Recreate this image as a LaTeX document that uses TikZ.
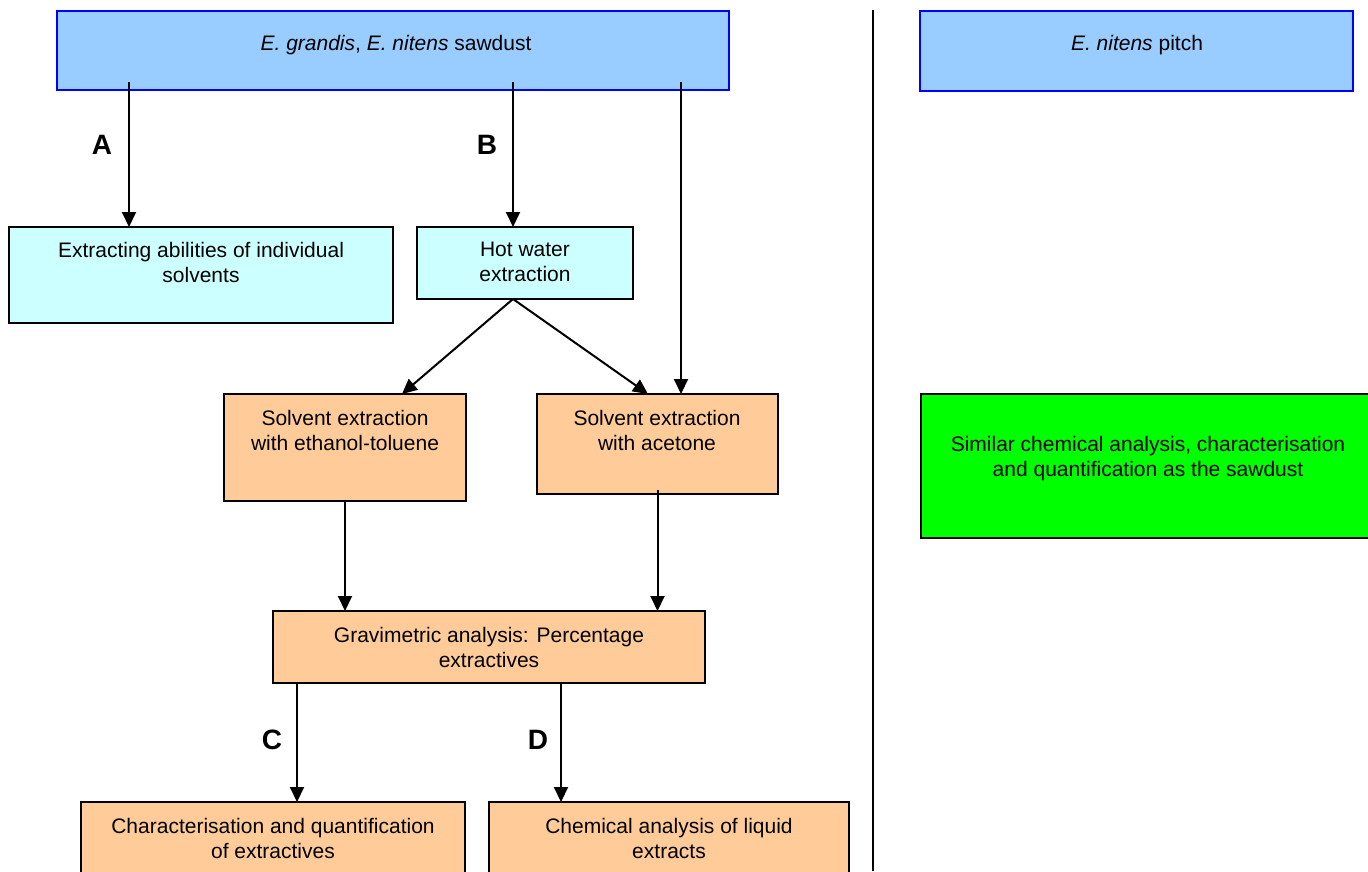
\documentclass[tikz,border=0pt]{standalone}
\usepackage{fontspec}
\setmainfont{Liberation Sans}
\usetikzlibrary{arrows.meta}
\definecolor{skyfill}{HTML}{99CCFF}
\definecolor{skyline}{HTML}{0000FF}
\definecolor{cyanfill}{HTML}{CCFFFF}
\definecolor{peachfill}{HTML}{FFCC99}
\definecolor{greenfill}{HTML}{00FF00}
\begin{document}
\begin{tikzpicture}[x=1pt,y=-1pt,
  box/.style={draw=black, line width=2pt, anchor=north west, inner sep=0pt, outer sep=0pt},
  srcbox/.style={box, draw=skyline, fill=skyfill},
  cyanbox/.style={box, fill=cyanfill},
  peachbox/.style={box, fill=peachfill},
  greenbox/.style={box, fill=greenfill},
  txt/.style={anchor=north, inner sep=0pt, align=center, font=\fontsize{21}{25}\selectfont},
  lbl/.style={inner sep=0pt, font=\fontsize{28}{30}\selectfont\bfseries},
  arr/.style={line width=2pt, -{Triangle[length=15pt,width=14pt]}},
  divider/.style={line width=2pt}
]
\useasboundingbox (0,0) rectangle (1368,871);
\clip (0,0) rectangle (1368,871);

% boxes
\node[srcbox, minimum width=672pt, minimum height=79pt] (saw) at (57,11) {};
\node[txt] (sawt) at (396,35) {\textit{E. grandis}, \textit{E. nitens} sawdust};
\node[srcbox, minimum width=433pt, minimum height=80pt] (pitch) at (920,11) {};
\node[txt] (pitcht) at (1137,35) {\textit{E. nitens} pitch};

\node[cyanbox, minimum width=384pt, minimum height=96pt] (ext) at (9,227) {};
\node[txt] (extt) at (201,242) {Extracting abilities of individual\\solvents};
\node[cyanbox, minimum width=216pt, minimum height=72pt] (hot) at (417,227) {};
\node[txt] (hott) at (525,242) {Hot water\\extraction};

\node[peachbox, minimum width=242pt, minimum height=107pt] (eth) at (224,394) {};
\node[txt] (etht) at (345,410) {Solvent extraction\\with ethanol-toluene};
\node[peachbox, minimum width=241pt, minimum height=100pt] (ace) at (537,394) {};
\node[txt] (acet) at (657,410) {Solvent extraction\\with acetone};

\node[peachbox, minimum width=432pt, minimum height=72pt] (grav) at (273,611) {};
\node[txt] (gravt) at (489,627) {Gravimetric analysis: Percentage\\extractives};

\node[peachbox, minimum width=384pt, minimum height=100pt] (char) at (81,802) {};
\node[txt] (chart) at (273,818) {Characterisation and quantification\\of extractives};
\node[peachbox, minimum width=360pt, minimum height=100pt] (chem) at (489,802) {};
\node[txt] (chemt) at (669,818) {Chemical analysis of liquid\\extracts};

\node[greenbox, minimum width=470pt, minimum height=144pt] (sim) at (921,394) {};
\node[txt] (simt) at (1148,436) {Similar chemical analysis, characterisation\\and quantification as the sawdust};

% labels
\node[lbl] (la) at (102,145) {A};
\node[lbl] (lb) at (487,145) {B};
\node[lbl] (lc) at (272,740) {C};
\node[lbl] (ld) at (538,740) {D};

% connectors
\coordinate (sA) at (129,82);
\coordinate (sB) at (513,82);
\coordinate (sC) at (681,82);
\draw[arr] (sA) -- (sA |- ext.north);
\draw[arr] (sB) -- (sB |- hot.north);
\draw[arr] (sC) -- (sC |- ace.north);
\draw[arr] (hot.south -| sB) -- ([xshift=57pt]eth.north);
\draw[arr] (hot.south -| sB) -- ([xshift=-9.5pt]ace.north);
\draw[arr] (eth.south) -- (eth.south |- grav.north);
\draw[arr] ([yshift=4pt]ace.south) -- (ace.south |- grav.north);
\coordinate (gC) at ([xshift=-192pt]grav.south);
\coordinate (gD) at ([xshift=72pt]grav.south);
\draw[arr] (gC) -- (gC |- char.north);
\draw[arr] (gD) -- (gD |- chem.north);

% divider
\coordinate (dtop) at (873,10);
\coordinate (dbot) at (873,871);
\draw[divider] (dtop) -- (dbot);
\end{tikzpicture}
\end{document}
